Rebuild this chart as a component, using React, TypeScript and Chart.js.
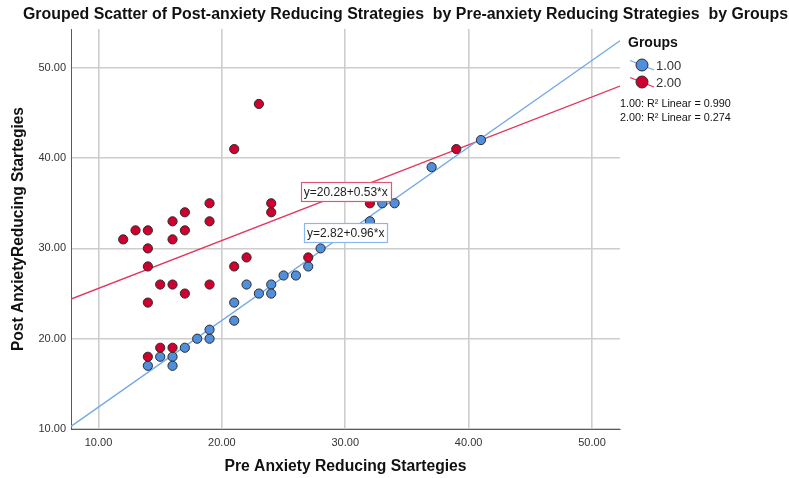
import React, { useEffect, useRef } from "react";
import { Chart, registerables } from "chart.js";

Chart.register(...registerables);

// ---- Data ----
const chartTitle =
  "Grouped Scatter of Post-anxiety Reducing Strategies  by Pre-anxiety Reducing Strategies  by Groups";
const xAxisTitle = "Pre Anxiety Reducing Startegies";
const yAxisTitle = "Post AnxietyReducing Startegies";
const legendTitle = "Groups";
const groupLabels = ["1.00", "2.00"];

const xTickValues = [10, 20, 30, 40, 50];
const yTickValues = [10, 20, 30, 40, 50];

// Group 1.00 (blue)
const group1X = [14, 15, 16, 16, 17, 18, 19, 19, 21, 21, 22, 23, 24, 24, 25, 26, 27, 28, 32, 33, 34, 37, 41];
const group1Y = [17, 18, 18, 17, 19, 20, 20, 21, 24, 22, 26, 25, 26, 25, 27, 27, 28, 30, 33, 35, 35, 39, 42];

// Group 2.00 (red)
const group2X = [12, 13, 14, 14, 14, 14, 14, 15, 15, 16, 16, 16, 16, 17, 17, 17, 19, 19, 19, 21, 21, 22, 23, 24, 24, 27, 32, 39];
const group2Y = [31, 32, 32, 30, 28, 24, 18, 26, 19, 33, 31, 26, 19, 34, 32, 25, 35, 33, 26, 41, 28, 29, 46, 35, 34, 29, 35, 41];

// Fit lines (as printed on the chart)
const fitIntercepts = [2.82, 20.28];
const fitSlopes = [0.96, 0.53];
const rSquared = ["0.990", "0.274"];

// Axis ranges
const xRange = [7.77, 52.27];
const yRange = [10, 54.3];

// ---- Styles ----
const FONT = '"Liberation Sans", Arial, Helvetica, sans-serif';
const pointColors = ["#4f8fdc", "#cf0030"];
const lineColors = ["#72a8e8", "#e3375e"];
const boxColors = ["#8bb8ec", "#e05a78"];

const toPts = (xs: number[], ys: number[]) => xs.map((x, i) => ({ x, y: ys[i] }));
const fitPts = (k: number) => [
  { x: xRange[0], y: fitIntercepts[k] + fitSlopes[k] * xRange[0] },
  { x: xRange[1], y: fitIntercepts[k] + fitSlopes[k] * xRange[1] },
];

const decorPlugin = {
  id: "decor",
  afterDatasetsDraw(chart: any) {
    const ctx = chart.ctx as CanvasRenderingContext2D;
    const xs = chart.scales.x;
    const ys = chart.scales.y;
    // equation boxes anchored in data space
    const anchors = [
      { x: 30.04, y: 31.72 },
      { x: 30.04, y: 36.26 },
    ];
    ctx.save();
    ctx.font = `12px ${FONT}`;
    ctx.textBaseline = "middle";
    ctx.textAlign = "center";
    for (let k = 0; k < 2; k++) {
      const txt = `y=${fitIntercepts[k].toFixed(2)}+${fitSlopes[k].toFixed(2)}*x`;
      const cx = xs.getPixelForValue(anchors[k].x);
      const cy = ys.getPixelForValue(anchors[k].y);
      const w = ctx.measureText(txt).width + 6;
      const h = 19;
      ctx.fillStyle = "#ffffff";
      ctx.fillRect(cx - w / 2, cy - h / 2, w, h);
      ctx.strokeStyle = boxColors[k];
      ctx.lineWidth = 1.2;
      ctx.strokeRect(Math.round(cx - w / 2) + 0.5, Math.round(cy - h / 2) + 0.5, Math.round(w), h);
      ctx.fillStyle = "#1e1e1e";
      ctx.fillText(txt, cx, cy + 1);
    }
    ctx.restore();
  },
  afterDraw(chart: any) {
    const ctx = chart.ctx as CanvasRenderingContext2D;
    const area = chart.chartArea;
    ctx.save();
    ctx.fillStyle = "#111";
    // title
    ctx.font = `bold 16px ${FONT}`;
    ctx.textAlign = "center";
    ctx.textBaseline = "middle";
    ctx.fillText(chartTitle, 405.5, 15, 765);
    // x axis title
    ctx.font = `bold 16px ${FONT}`;
    ctx.fillText(xAxisTitle, (area.left + area.right) / 2, 467, 242);
    // y axis title
    ctx.save();
    ctx.translate(19, (area.top + area.bottom) / 2);
    ctx.rotate(-Math.PI / 2);
    ctx.fillText(yAxisTitle, 0, 0, 244);
    ctx.restore();

    // legend
    ctx.textAlign = "left";
    ctx.font = `bold 14px ${FONT}`;
    ctx.fillText(legendTitle, 628, 43);
    for (let k = 0; k < 2; k++) {
      const cy = 65 + k * 17;
      ctx.strokeStyle = lineColors[k];
      ctx.lineWidth = 1.3;
      ctx.beginPath();
      ctx.moveTo(630, cy - 4.5);
      ctx.lineTo(654, cy + 5);
      ctx.stroke();
      ctx.beginPath();
      ctx.arc(642, cy, 6, 0, Math.PI * 2);
      ctx.fillStyle = pointColors[k];
      ctx.fill();
      ctx.strokeStyle = "#2b2b2b";
      ctx.lineWidth = 1;
      ctx.stroke();
      ctx.fillStyle = "#333";
      ctx.font = `13px ${FONT}`;
      ctx.fillText(groupLabels[k], 656, cy + 1);
    }
    ctx.font = `10.8px ${FONT}`;
    ctx.fillStyle = "#111";
    for (let k = 0; k < 2; k++) {
      ctx.fillText(`${groupLabels[k]}: R² Linear = ${rSquared[k]}`, 620, 104 + k * 14);
    }
    ctx.restore();
  },
};

export default function App() {
  const ref = useRef<HTMLCanvasElement | null>(null);
  useEffect(() => {
    if (!ref.current) return;
    const chart = new Chart(ref.current, {
      type: "scatter",
      data: {
        datasets: [
          {
            label: groupLabels[1],
            data: toPts(group2X, group2Y),
            backgroundColor: pointColors[1],
            borderColor: "#2b2b2b",
            borderWidth: 1,
            pointRadius: 4.6,
          },
          {
            label: groupLabels[0],
            data: toPts(group1X, group1Y),
            backgroundColor: pointColors[0],
            borderColor: "#2b2b2b",
            borderWidth: 1,
            pointRadius: 4.6,
          },
          {
            type: "line",
            label: "fit1",
            data: fitPts(0),
            borderColor: lineColors[0],
            borderWidth: 1.4,
            pointRadius: 0,
            fill: false,
          },
          {
            type: "line",
            label: "fit2",
            data: fitPts(1),
            borderColor: lineColors[1],
            borderWidth: 1.4,
            pointRadius: 0,
            fill: false,
          },
        ] as any,
      },
      options: {
        animation: false,
        responsive: false,
        maintainAspectRatio: false,
        events: [],
        layout: { padding: { left: 0, right: 169, top: 29, bottom: 0 } },
        plugins: {
          legend: { display: false },
          title: { display: false },
          tooltip: { enabled: false },
        },
        scales: {
          x: {
            type: "linear",
            min: xRange[0],
            max: xRange[1],
            afterBuildTicks: (s: any) => {
              s.ticks = xTickValues.map((v) => ({ value: v }));
            },
            afterFit: (s: any) => {
              s.height = 49;
            },
            grid: { color: "#cdcdcd", lineWidth: 1.6, drawTicks: false },
            border: { display: true, color: "#5a5a5a", width: 1 },
            ticks: {
              padding: 7,
              color: "#333",
              font: { family: FONT, size: 11 },
              callback: (v: any) => Number(v).toFixed(2),
            },
          },
          y: {
            type: "linear",
            min: yRange[0],
            max: yRange[1],
            afterBuildTicks: (s: any) => {
              s.ticks = yTickValues.map((v) => ({ value: v }));
            },
            afterFit: (s: any) => {
              s.width = 71;
            },
            grid: { color: "#cdcdcd", lineWidth: 1.6, drawTicks: false },
            border: { display: true, color: "#5a5a5a", width: 1 },
            ticks: {
              padding: 5,
              color: "#333",
              font: { family: FONT, size: 11 },
              callback: (v: any) => Number(v).toFixed(2),
            },
          },
        },
      },
      plugins: [decorPlugin],
    });
    return () => chart.destroy();
  }, []);

  return (
    <div style={{ position: "absolute", left: 0, top: 0, width: 789, height: 478, background: "#fff" }}>
      <canvas ref={ref} width={789} height={478} style={{ display: "block" }} />
    </div>
  );
}
